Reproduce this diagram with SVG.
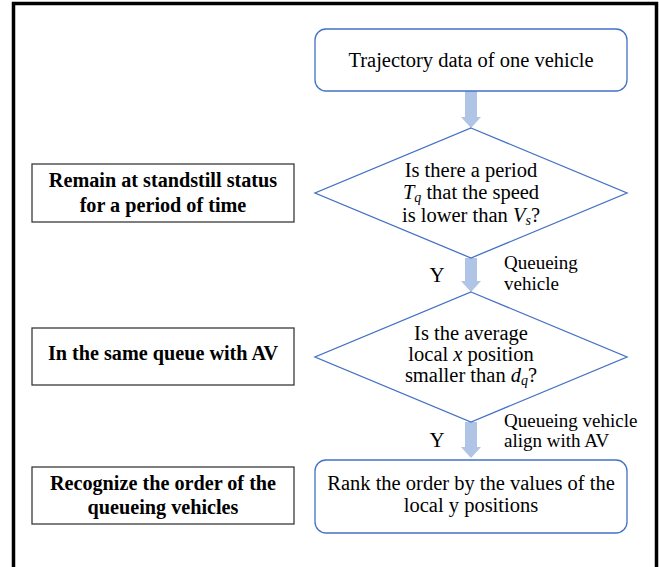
<svg xmlns="http://www.w3.org/2000/svg" width="659" height="567" viewBox="0 0 659 567">
<style>
.t{font-family:"Liberation Serif","Times New Roman",serif;font-size:20.5px;fill:#000;text-anchor:middle}
.l{font-family:"Liberation Serif","Times New Roman",serif;font-size:19px;fill:#000}
.b{font-family:"Liberation Serif","Times New Roman",serif;font-size:20.2px;font-weight:bold;fill:#000;text-anchor:middle}
.i{font-style:italic}
.s{font-style:italic;font-size:14px}
.blue{fill:#fff;stroke:#4472C4;stroke-width:1.3}
.gray{fill:#fff;stroke:#3a3a3a;stroke-width:1.3}
.arr{fill:#B0C4E6}
</style>
<rect x="0" y="0" width="659" height="567" fill="#fff"/>
<path d="M13.5,567 V3.5 H656.5 V567" fill="none" stroke="#000" stroke-width="3.5"/>
<g id="connectors">
<path class="arr" d="M465,91 H477 V117 H481 L471,128 L461,117 H465 Z"/>
<path class="arr" d="M465,258 H477 V281 H481 L471,292 L461,281 H465 Z"/>
<path class="arr" d="M465,422 H477 V447 H481 L471,458 L461,447 H465 Z"/>
<text class="l" x="504" y="269">Queueing</text>
<text class="l" x="504" y="290">vehicle</text>
<text class="t" x="437" y="282" style="font-size:21px">Y</text>
<text class="l" x="504" y="427">Queueing vehicle</text>
<text class="l" x="504" y="447">align with AV</text>
<text class="t" x="437" y="447" style="font-size:21px">Y</text>
</g>
<g id="start">
<rect class="blue" x="315" y="29" width="312" height="62" rx="11"/>
<text class="t" x="471" y="67">Trajectory data of one vehicle</text>
</g>
<g id="decision1">
<polygon class="blue" points="471,128 627,193 471,258 315,193"/>
<text class="t" x="471" y="177">Is there a period</text>
<text class="t" x="471" y="199"><tspan class="i">T</tspan><tspan class="s" dy="3">q</tspan><tspan dy="-3"> that the speed</tspan></text>
<text class="t" x="471" y="222">is lower than <tspan class="i">V</tspan><tspan class="s" dy="3">s</tspan><tspan dy="-3">?</tspan></text>
</g>
<g id="decision2">
<polygon class="blue" points="471,292 627,357 471,422 315,357"/>
<text class="t" x="471" y="340">Is the average</text>
<text class="t" x="471" y="361">local <tspan class="i">x</tspan> position</text>
<text class="t" x="471" y="382">smaller than <tspan class="i">d</tspan><tspan class="s" dy="3">q</tspan><tspan dy="-3">?</tspan></text>
</g>
<g id="rank">
<rect class="blue" x="315" y="460" width="312" height="73" rx="11"/>
<text class="t" x="471" y="490">Rank the order by the values of the</text>
<text class="t" x="471" y="512">local y positions</text>
</g>
<g id="label1">
<rect class="gray" x="32" y="164" width="262" height="58"/>
<text class="b" x="163" y="187">Remain at standstill status</text>
<text class="b" x="163" y="212">for a period of time</text>
</g>
<g id="label2">
<rect class="gray" x="32" y="328" width="262" height="57"/>
<text class="b" x="163" y="360">In the same queue with AV</text>
</g>
<g id="label3">
<rect class="gray" x="32" y="467" width="262" height="57"/>
<text class="b" x="163" y="490">Recognize the order of the</text>
<text class="b" x="163" y="514">queueing vehicles</text>
</g>
</svg>
